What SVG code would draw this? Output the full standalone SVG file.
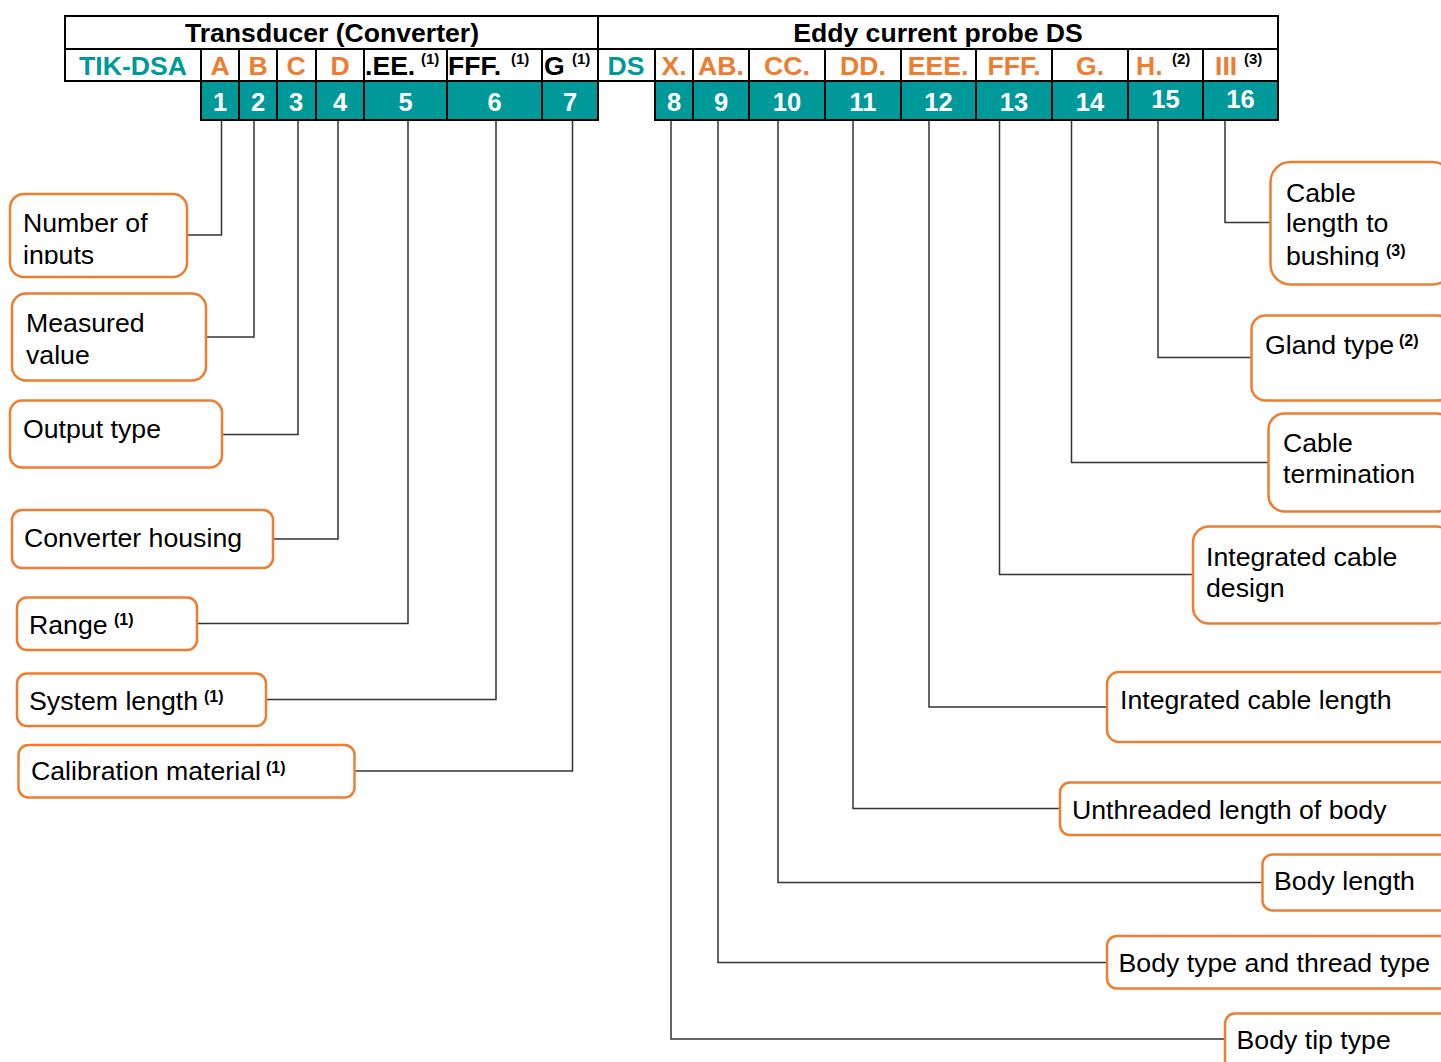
<svg xmlns="http://www.w3.org/2000/svg" width="1441" height="1062" viewBox="0 0 1441 1062">
<style>
text{font-family:"Liberation Sans",Arial,sans-serif}
.hd{font-size:26.6px;font-weight:bold;fill:#000;text-anchor:middle}
.code{font-size:26.6px;font-weight:bold;fill:#ED7D31;text-anchor:middle}
.codek{font-size:26.6px;font-weight:bold;fill:#000}
.teal{fill:#009999}
.sup{font-size:15px;font-weight:bold;fill:#000}
.num{font-size:25.5px;font-weight:bold;fill:#fff;text-anchor:middle}
.tb{fill:none;stroke:#000;stroke-width:2}
.cell{fill:#009999;stroke:#000;stroke-width:2}
.box{fill:#fff;stroke:#ED7D31;stroke-width:2.5}
.lbl{font-size:26.7px;fill:#000}
.bsup{font-size:16px;font-weight:bold;fill:#000}
.con{fill:none;stroke:#333;stroke-width:1.5}
</style>
<defs>
<clipPath id="clipInputs"><rect x="0" y="190" width="200" height="74"/></clipPath>
<clipPath id="clipBushing"><rect x="1270" y="160" width="171" height="107"/></clipPath>
</defs>
<rect width="1441" height="1062" fill="#fff"/>

<g id="table">
<rect class="tb" x="65" y="16" width="533" height="65"/>
<rect class="tb" x="598" y="16" width="680" height="65"/>
<line class="tb" x1="65" y1="49" x2="1278" y2="49"/>
<rect class="cell" x="201" y="81" width="397" height="39"/>
<rect class="cell" x="655" y="81" width="623" height="39"/>
<path class="tb" d="M201 49V120M239 49V120M277 49V120M316 49V120M364 49V120M447 49V120M542 49V120M655 49V120M693 49V120M749 49V120M825 49V120M901 49V120M976 49V120M1052 49V120M1128 49V120M1203 49V120"/>
<text class="hd" x="332" y="42">Transducer (Converter)</text>
<text class="hd" x="938" y="42">Eddy current probe DS</text>
<text class="code teal" x="133" y="75">TIK-DSA</text>
<text class="code" x="220" y="75">A</text>
<text class="code" x="258" y="75">B</text>
<text class="code" x="296" y="75">C</text>
<text class="code" x="340" y="75">D</text>
<text class="codek" x="365" y="75">.EE.<tspan class="sup" x="421" y="64">(1)</tspan></text>
<text class="codek" x="448" y="75">FFF.<tspan class="sup" x="511" y="64">(1)</tspan></text>
<text class="codek" x="544" y="75">G<tspan class="sup" x="572" y="64">(1)</tspan></text>
<text class="code teal" x="626" y="75">DS</text>
<text class="code" x="674" y="75">X.</text>
<text class="code" x="721" y="75">AB.</text>
<text class="code" x="787" y="75">CC.</text>
<text class="code" x="863" y="75">DD.</text>
<text class="code" x="938" y="75">EEE.</text>
<text class="code" x="1014" y="75">FFF.</text>
<text class="code" x="1090" y="75">G.</text>
<text class="code" x="1136" y="75" style="text-anchor:start">H.<tspan class="sup" x="1172" y="64">(2)</tspan></text>
<text class="code" x="1215" y="75" style="text-anchor:start">III<tspan class="sup" x="1244" y="64">(3)</tspan></text>
<text class="num" x="220" y="110.5">1</text>
<text class="num" x="258" y="110.5">2</text>
<text class="num" x="296" y="110.5">3</text>
<text class="num" x="340" y="110.5">4</text>
<text class="num" x="405.5" y="110.5">5</text>
<text class="num" x="494.5" y="110.5">6</text>
<text class="num" x="570" y="110.5">7</text>
<text class="num" x="674" y="110.5">8</text>
<text class="num" x="721" y="110.5">9</text>
<text class="num" x="787" y="110.5">10</text>
<text class="num" x="863" y="110.5">11</text>
<text class="num" x="938.5" y="110.5">12</text>
<text class="num" x="1014" y="110.5">13</text>
<text class="num" x="1090" y="110.5">14</text>
<text class="num" x="1165.5" y="107.5">15</text>
<text class="num" x="1240.5" y="107.5">16</text>
</g>

<g id="connectors">
<path class="con" d="M221.5 121V235H187"/>
<path class="con" d="M254 121V337H206"/>
<path class="con" d="M298 121V434.5H222"/>
<path class="con" d="M338 121V539H273"/>
<path class="con" d="M408 121V623.5H197"/>
<path class="con" d="M496 121V699.5H266"/>
<path class="con" d="M572.5 121V771H355"/>
<path class="con" d="M671 121V1039H1225"/>
<path class="con" d="M718 121V962.5H1107"/>
<path class="con" d="M778 121V882.5H1262"/>
<path class="con" d="M853 121V808.5H1060"/>
<path class="con" d="M929 121V707H1107"/>
<path class="con" d="M999.5 121V574.5H1193"/>
<path class="con" d="M1071.5 121V462.5H1268"/>
<path class="con" d="M1158 121V357.5H1251"/>
<path class="con" d="M1225 121V222.5H1270"/>
</g>

<g id="n-inputs">
<rect class="box" x="10" y="194" width="177" height="83" rx="14"/>
<g clip-path="url(#clipInputs)"><text class="lbl" x="23" y="232">Number of<tspan x="23" y="264">inputs</tspan></text></g>
</g>
<g id="n-measured">
<rect class="box" x="12" y="293.5" width="194" height="87" rx="14"/>
<text class="lbl" x="26" y="332">Measured<tspan x="26" y="364">value</tspan></text>
</g>
<g id="n-output">
<rect class="box" x="10" y="400.5" width="212" height="67" rx="12"/>
<text class="lbl" x="23" y="437.5">Output type</text>
</g>
<g id="n-housing">
<rect class="box" x="12" y="510" width="261" height="58" rx="10"/>
<text class="lbl" x="24" y="547">Converter housing</text>
</g>
<g id="n-range">
<rect class="box" x="17" y="597.5" width="180" height="52.5" rx="10"/>
<text class="lbl" x="29" y="633.5">Range<tspan class="bsup" x="114" y="625">(1)</tspan></text>
</g>
<g id="n-syslen">
<rect class="box" x="17" y="673.5" width="249" height="52.5" rx="10"/>
<text class="lbl" x="29" y="709.5">System length<tspan class="bsup" x="204" y="701.5">(1)</tspan></text>
</g>
<g id="n-calib">
<rect class="box" x="18.5" y="745" width="336" height="52.5" rx="10"/>
<text class="lbl" x="31" y="779.5">Calibration material<tspan class="bsup" x="266" y="772.5">(1)</tspan></text>
</g>

<g id="n-bushing">
<rect class="box" x="1270.5" y="162" width="182" height="122.5" rx="20"/>
<g clip-path="url(#clipBushing)"><text class="lbl" x="1286" y="202">Cable<tspan x="1286" y="232">length to</tspan><tspan x="1286" y="265">bushing</tspan><tspan class="bsup" x="1386" y="256">(3)</tspan></text></g>
</g>
<g id="n-gland">
<rect class="box" x="1251.5" y="315.5" width="200" height="85" rx="14"/>
<text class="lbl" x="1265" y="353.5">Gland type<tspan class="bsup" x="1399" y="346">(2)</tspan></text>
</g>
<g id="n-termination">
<rect class="box" x="1268.5" y="413.5" width="184" height="98" rx="16"/>
<text class="lbl" x="1283" y="452">Cable<tspan x="1283" y="483">termination</tspan></text>
</g>
<g id="n-design">
<rect class="box" x="1193" y="526.5" width="259" height="97" rx="16"/>
<text class="lbl" x="1206" y="566">Integrated cable<tspan x="1206" y="597">design</tspan></text>
</g>
<g id="n-intlen">
<rect class="box" x="1107" y="672" width="345" height="70" rx="12"/>
<text class="lbl" x="1120" y="708.5">Integrated cable length</text>
</g>
<g id="n-unthreaded">
<rect class="box" x="1060" y="782.5" width="392" height="52.5" rx="10"/>
<text class="lbl" x="1072" y="818.5">Unthreaded length of body</text>
</g>
<g id="n-bodylen">
<rect class="box" x="1262.5" y="854.5" width="190" height="56" rx="10"/>
<text class="lbl" x="1274" y="890">Body length</text>
</g>
<g id="n-bodytype">
<rect class="box" x="1107" y="936" width="345" height="52.5" rx="10"/>
<text class="lbl" x="1118.5" y="972">Body type and thread type</text>
</g>
<g id="n-tip">
<rect class="box" x="1225" y="1013.5" width="227" height="70" rx="10"/>
<text class="lbl" x="1236.5" y="1049">Body tip type</text>
</g>
</svg>
